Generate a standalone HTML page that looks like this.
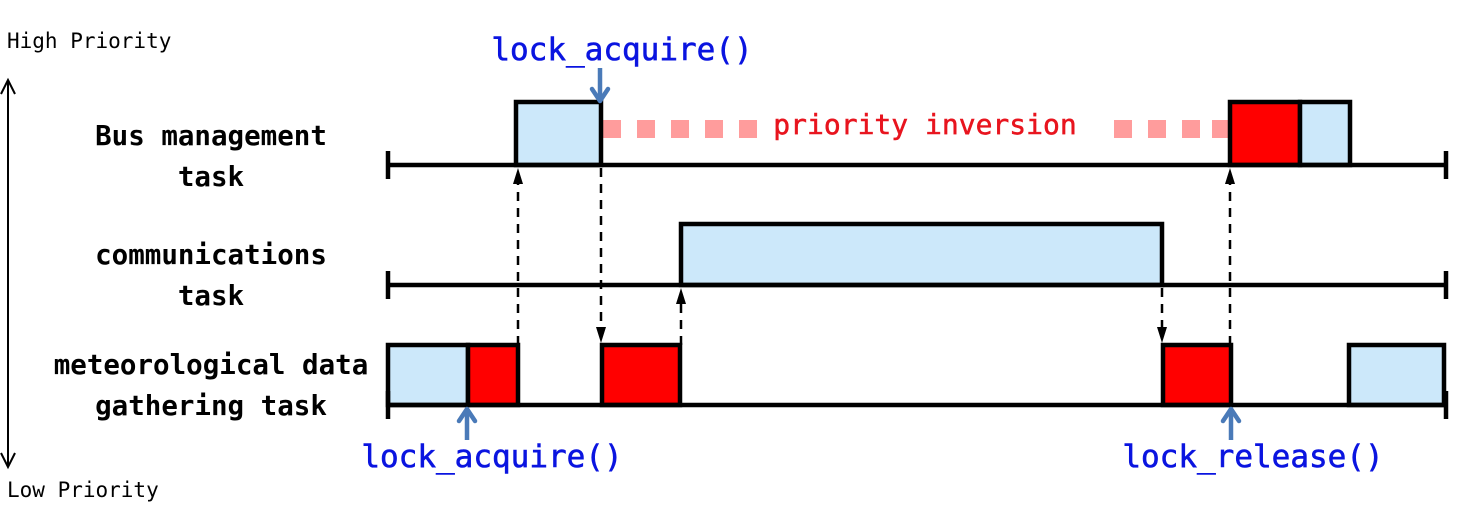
<!DOCTYPE html>
<html><head><meta charset="utf-8"><style>
html,body{margin:0;padding:0;background:#fff;width:1475px;height:527px;overflow:hidden}
svg{display:block}
.mono{font-family:"DejaVu Sans Mono","Liberation Mono",monospace}
</style></head><body>
<svg id="chart" width="1475" height="527" viewBox="0 0 1475 527">
<text class="mono" x="7" y="48" font-size="21">High Priority</text>
<text class="mono" x="7" y="497" font-size="21">Low Priority</text>
<line x1="8" y1="82" x2="8" y2="465" stroke="#000" stroke-width="2"/>
<path d="M1,94 L8,80 L15,94 M1,453 L8,467 L15,453" fill="none" stroke="#000" stroke-width="2"/>
<g class="mono" font-size="27.5" font-weight="bold" text-anchor="middle">
<text x="211" y="145">Bus management</text>
<text x="211" y="186">task</text>
<text x="211" y="264">communications</text>
<text x="211" y="305">task</text>
<text x="211" y="374">meteorological data</text>
<text x="211" y="415">gathering task</text>
</g>
<g id="marks"></g>
<g class="mono" font-size="31" fill="#0a14e0" text-anchor="middle" stroke="#0a14e0" stroke-width="0.6">
<text x="622" y="60">lock_acquire()</text>
<text x="492" y="467">lock_acquire()</text>
<text x="1253" y="467">lock_release()</text>
</g>
<text class="mono" x="925" y="134" font-size="28" fill="#e8141e" stroke="#e8141e" stroke-width="0.5" text-anchor="middle">priority inversion</text>
</svg>
<script>
const laneNames = ['bus','comm','met'];
const laneY = [165, 285, 405];
const laneTop = [102, 224, 345];
const segLane = [0,0,0, 1, 2,2,2,2,2];
const segStart = [516,1230,1300, 681, 388,468,602,1163,1349];
const segEnd = [601,1300,1350, 1162, 468,518,680,1231,1444];
const segType = ['run','lock','run','run','run','lock','lock','lock','run'];
const swX = [518, 601, 681, 1162, 1230];
const swFrom = [2, 0, 2, 1, 2];
const swTo = [0, 2, 1, 2, 0];

const NS='http://www.w3.org/2000/svg';
const g=document.getElementById('marks');
function mk(t,a){const e=document.createElementNS(NS,t);for(const k in a)e.setAttribute(k,a[k]);g.appendChild(e);return e;}
const dashXs=[603,637,671,705,739,1114,1148,1182,1212];
for(const x of dashXs){const r=mk('rect',{x:x,y:120,width:18,height:18,fill:'#ff9c9c'});

}
for(let i=0;i<segLane.length;i++){
 const l=segLane[i];
 const r=mk('rect',{x:segStart[i],y:laneTop[l],width:segEnd[i]-segStart[i],height:laneY[l]-laneTop[l],fill:segType[i]==='lock'?'#ff0000':'#cce8fa',stroke:'#000','stroke-width':4.5});
 
 
}
for(let l=0;l<3;l++){
 const ln=mk('line',{x1:388,y1:laneY[l],x2:1446,y2:laneY[l],stroke:'#000','stroke-width':4.5});
 
 
 mk('line',{x1:388,y1:laneY[l]-14,x2:388,y2:laneY[l]+14,stroke:'#000','stroke-width':4.5});
 mk('line',{x1:1446,y1:laneY[l]-14,x2:1446,y2:laneY[l]+14,stroke:'#000','stroke-width':4.5});
}
for(let i=0;i<swX.length;i++){
 const up=swFrom[i]>swTo[i];
 const y1=up?laneTop[swFrom[i]]:laneY[swFrom[i]]+3;
 const tip=up?laneY[swTo[i]]+3:laneTop[swTo[i]]-2;
 const d=up?1:-1;
 const a=mk('line',{x1:swX[i],y1:y1,x2:swX[i],y2:tip+d*12,stroke:'#000','stroke-width':2.5,'stroke-dasharray':'9,7'});
 
 
 mk('polygon',{points:`${swX[i]},${tip} ${swX[i]-5},${tip+d*16} ${swX[i]+5},${tip+d*16}`,fill:'#000'});
}
const baX=[600,467,1231], baFrom=[68,440,440], baTip=[102,408,408];
for(let i=0;i<3;i++){
 const d=baFrom[i]<baTip[i]?-1:1;
 const a=mk('line',{x1:baX[i],y1:baFrom[i],x2:baX[i],y2:baTip[i]+d*2,stroke:'#4a7ab8','stroke-width':4.5});
 
 
 mk('path',{d:`M${baX[i]-8},${baTip[i]+d*13} L${baX[i]},${baTip[i]+d*1} L${baX[i]+8},${baTip[i]+d*13}`,fill:'none',stroke:'#4a7ab8','stroke-width':4.5,'stroke-linecap':'round','stroke-linejoin':'round'});
}
</script>
</body></html>
